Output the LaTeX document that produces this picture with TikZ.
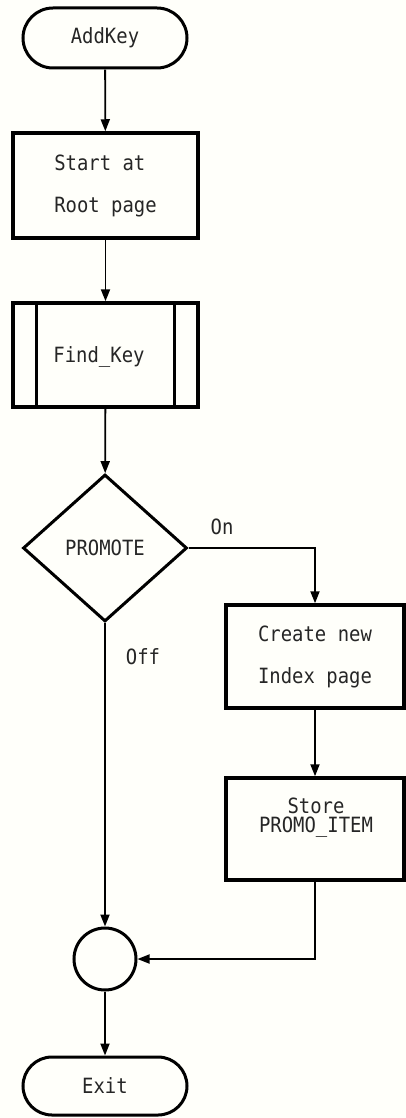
\documentclass[tikz,border=0pt]{standalone}
\usepackage{fontspec}
\setmonofont[FakeStretch=0.9]{DejaVu Sans Mono}
\usetikzlibrary{shapes.geometric,shapes.misc,arrows.meta}
\begin{document}
\begin{tikzpicture}[x=1pt,y=-1pt,
  txt/.style={font=\ttfamily\fontsize{21}{42}\selectfont, text=black!85},
  box/.style={draw, line width=3.5pt, minimum width=185pt, minimum height=105pt,
              inner sep=0pt, align=left, txt},
  term/.style={draw, rounded rectangle, line width=3pt, minimum width=164pt,
               minimum height=60pt, inner sep=0pt, txt},
  decision/.style={draw, diamond, line width=3pt, minimum width=164pt,
                   minimum height=147pt, inner sep=0pt, txt},
  joint/.style={draw, circle, line width=3pt, minimum size=62pt, inner sep=0pt},
  flow/.style={line width=1.8pt, -{Triangle[length=12pt,width=9pt]}}
]
% paper and bounding box
\fill[white!98!yellow] (0,0) rectangle (406,1118);
\useasboundingbox (0,0) rectangle (406,1118);

% main column
\node[term] (addkey) at (105,38) {AddKey};
\node[box] (root) at (105.5,185.5) {Start at\\Root page};
\node[box, minimum height=104pt] (find) at (105.5,355) {};
\node[txt] (findtxt) at (99,357) {Find\_Key};
\draw[line width=3pt] ([xshift=25pt]find.north west) -- ([xshift=25pt]find.south west);
\draw[line width=3pt] ([xshift=-25pt]find.north east) -- ([xshift=-25pt]find.south east);
\node[decision] (promote) at (105,548) {PROMOTE};
\node[joint] (join) at (105,959) {};
\node[term, minimum height=58pt] (exit) at (105,1086) {Exit};

% branch column
\node[box, minimum width=178pt, minimum height=103pt] (create) at (315,656.5) {Create new\\Index page};
\node[box, minimum width=178pt, minimum height=102pt] (store) at (315,829) {};
\node[txt, align=center, font=\ttfamily\fontsize{21}{19}\selectfont] (storetxt) at (316,818) {Store\\PROMO\_ITEM};

% branch labels
\node[txt] (onlbl) at (222,527) {On};
\node[txt] (offlbl) at (143,657) {Off};

% connectors
\draw[flow] (addkey) -- (root);
\draw[flow] (root) -- (find);
\draw[flow] (find) -- (promote);
\draw[flow] (promote.east) -| (create.north);
\draw[flow] (create) -- (store);
\draw[flow] (promote.south) -- (join.north);
\draw[flow] (store.south) |- (join.east);
\draw[flow] (join) -- (exit);
\end{tikzpicture}
\end{document}
